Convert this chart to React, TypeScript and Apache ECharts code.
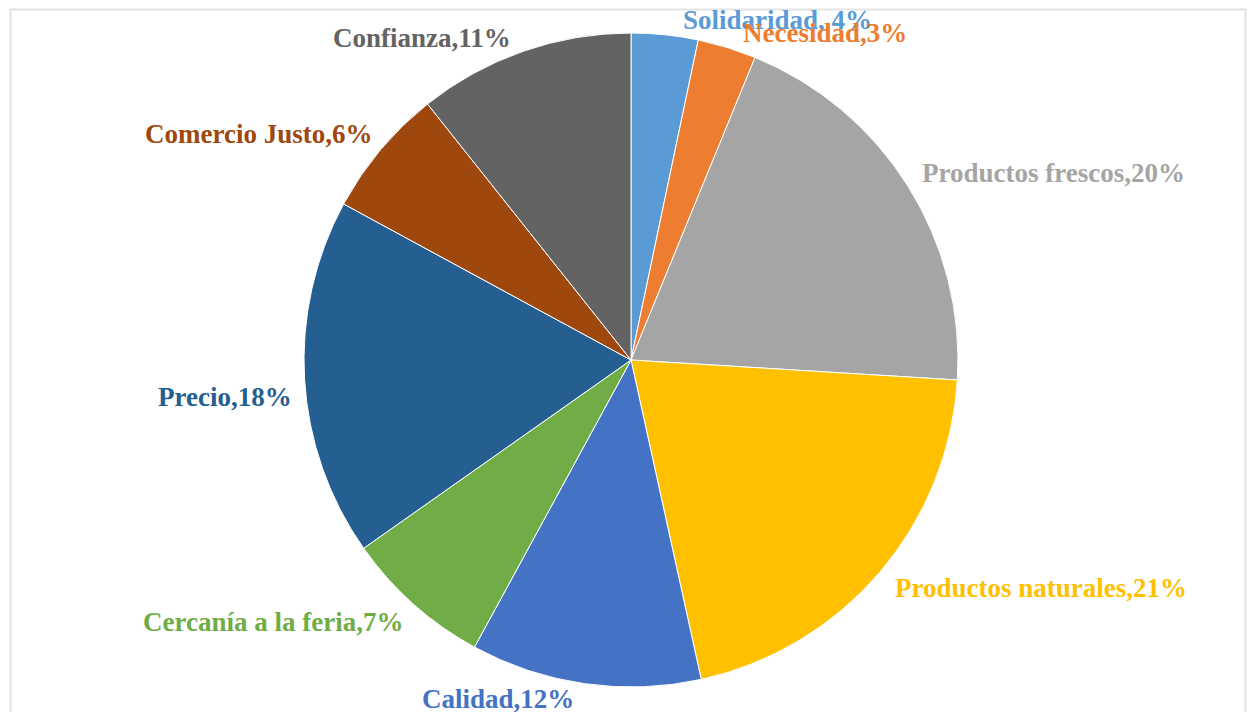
import React, { useEffect, useRef } from "react";
import * as echarts from "echarts";

const categories = [
  "Solidaridad",
  "Necesidad",
  "Productos frescos",
  "Productos naturales",
  "Calidad",
  "Cercanía a la feria",
  "Precio",
  "Comercio Justo",
  "Confianza",
];
const values = [3.3, 2.9, 19.8, 20.6, 11.4, 7.3, 17.7, 6.4, 10.7];
const percentLabels = [" 4%", "3%", "20%", "21%", "12%", "7%", "18%", "6%", "11%"];
const colors = [
  "#5B9BD5",
  "#ED7D31",
  "#A5A5A5",
  "#FFC000",
  "#4472C4",
  "#70AD47",
  "#255E91",
  "#9E480E",
  "#636363",
];
// label anchor (left edge x, vertical centre y) as placed in the original layout
const labelAnchors: [number, number][] = [
  [683, 20],
  [743, 33],
  [922, 173],
  [895, 588],
  [422, 699],
  [143, 622],
  [158, 397],
  [145, 134],
  [333, 38],
];

export default function App() {
  const ref = useRef<HTMLDivElement>(null);
  useEffect(() => {
    if (!ref.current) return;
    const chart = echarts.init(ref.current, undefined, { renderer: "svg" });
    chart.setOption({
      animation: false,
      backgroundColor: "#ffffff",
      graphic: [
        {
          type: "rect",
          left: 8,
          top: 7,
          shape: { width: 1235, height: 720 },
          style: { fill: "none", stroke: "#e4e4e4", lineWidth: 2 },
          silent: true,
        },
      ],
      series: [
        {
          type: "pie",
          center: [631, 360],
          radius: 327,
          startAngle: 90,
          clockwise: true,
          avoidLabelOverlap: false,
          itemStyle: { borderColor: "#ffffff", borderWidth: 1 },
          label: {
            show: true,
            position: "outside",
            fontFamily: "'Liberation Serif', 'Times New Roman', serif",
            fontWeight: "bold",
            fontSize: 27,
            formatter: (p: any) => `${p.name},${percentLabels[p.dataIndex]}`,
          },
          labelLine: { show: false, length: 10, length2: 0 },
          labelLayout: (params: any) => {
            const a = labelAnchors[params.dataIndex];
            return {
              x: a[0],
              y: a[1],
              align: "left",
              verticalAlign: "middle",
              hideOverlap: false,
              moveOverlap: null,
            };
          },
          data: categories.map((name, i) => ({
            name,
            value: values[i],
            itemStyle: { color: colors[i] },
            label: { color: colors[i] },
          })),
        },
      ],
    });
    return () => chart.dispose();
  }, []);
  return (
    <div
      ref={ref}
      style={{ position: "absolute", left: 0, top: 0, width: 1248, height: 712 }}
    />
  );
}
